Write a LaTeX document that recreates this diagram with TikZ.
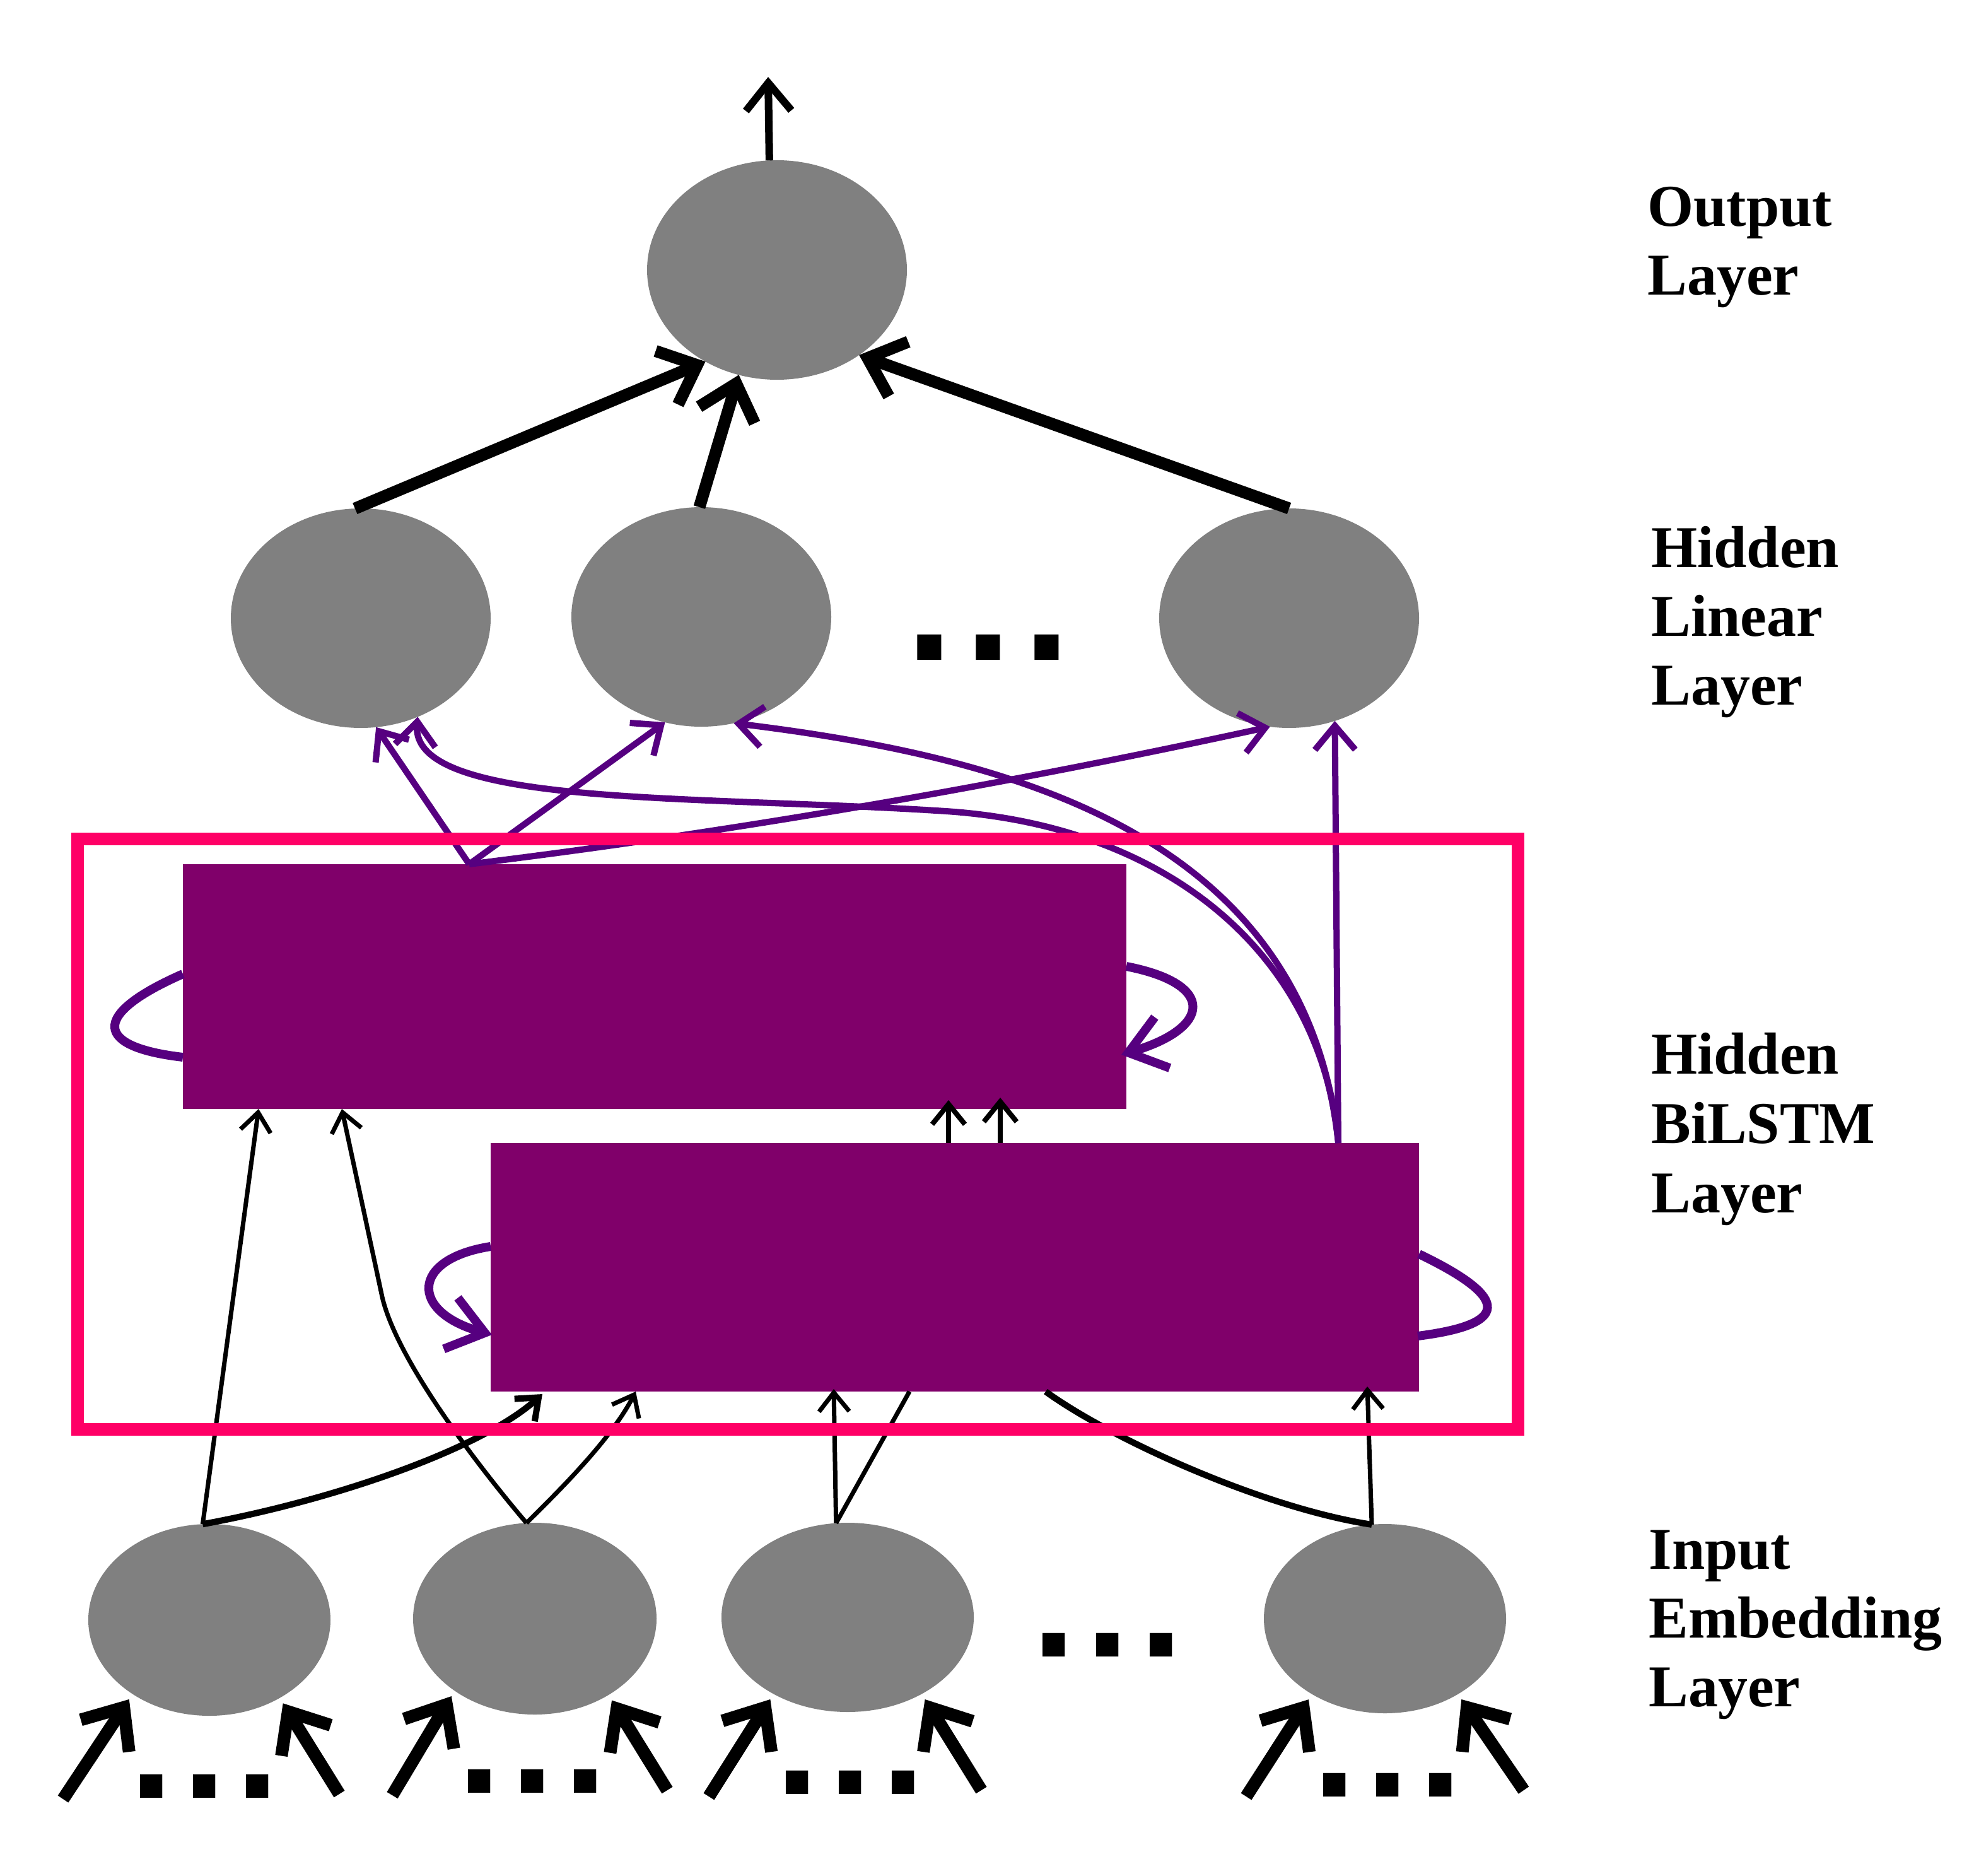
\documentclass[tikz,border=0pt]{standalone}
\usepackage{fontspec}
\setmainfont{Liberation Serif}
\newfontfamily\dotfont{Liberation Sans}
\usetikzlibrary{arrows.meta,shapes.geometric,calc}
\definecolor{nodegray}{RGB}{128,128,128}
\definecolor{boxpurple}{RGB}{128,0,106}
\definecolor{linkviolet}{RGB}{86,0,128}
\definecolor{framepink}{RGB}{255,0,102}
\newcommand{\dotrow}[1]{.\kern#1.\kern#1.}
\begin{document}
\begin{tikzpicture}[x=1pt,y=-1pt,
  ell/.style={ellipse,fill=nodegray,draw=none,inner sep=0pt,outer sep=0pt},
  boxnode/.style={rectangle,fill=boxpurple,draw=none,inner sep=0pt,outer sep=0pt},
  framenode/.style={rectangle,draw=framepink,line width=10pt,fill=none,inner sep=0pt,outer sep=0pt},
  lbl/.style={anchor=base west,inner sep=0pt,font=\fontsize{47}{55}\selectfont\bfseries},
  dotsnode/.style={anchor=base,inner sep=0pt,font=\dotfont\fontsize{125}{125}\selectfont\bfseries},
  thickarr/.style={draw=black,line width=9.5pt,-{Straight Barb[length=26pt,width=46pt,sharp]}},
  outarr/.style={draw=black,line width=6pt,-{Straight Barb[length=22pt,width=36pt,sharp]}},
  botarr/.style={draw=black,line width=10pt,-{Straight Barb[length=27pt,width=46pt,sharp]},shorten >=5pt},
  parr/.style={draw=linkviolet,line width=5pt,-{Straight Barb[length=19pt,width=32pt,sharp]}},
  ploop/.style={draw=linkviolet,line width=7pt},
  ploopar/.style={ploop,-{Straight Barb[length=28pt,width=42pt,sharp]}},
  barr/.style={draw=black,line width=3.5pt,-{Straight Barb[length=15pt,width=24pt,sharp]}},
  bline/.style={draw=black,line width=3.5pt},
  bthick/.style={draw=black,line width=5pt},
  midarr/.style={draw=black,line width=4pt,-{Straight Barb[length=16pt,width=26pt,sharp]}}
]
\useasboundingbox (0,0) rectangle (1565,1487);
\fill[white] (0,0) rectangle (1565,1487);

% ---------- nodes ----------
\node[ell,minimum width=206pt,minimum height=174pt] (o) at (616,214) {};
\node[ell,minimum width=206pt,minimum height=174pt] (h1) at (286,490) {};
\node[ell,minimum width=206pt,minimum height=174pt] (h2) at (556,489) {};
\node[ell,minimum width=206pt,minimum height=174pt] (h3) at (1022,490) {};

\node[ell,minimum width=192pt,minimum height=152pt] (i1) at (166,1284) {};
\node[ell,minimum width=193pt,minimum height=152pt] (i2) at (424,1283) {};
\node[ell,minimum width=200pt,minimum height=150pt] (i3) at (672,1282) {};
\node[ell,minimum width=192pt,minimum height=150pt] (i4) at (1098,1283) {};

\node[boxnode,minimum width=748pt,minimum height=194pt] (U) at (519,782) {};
\node[boxnode,minimum width=736pt,minimum height=197pt] (L) at (757,1004.5) {};

% ---------- named points ----------
\coordinate (otop) at (609,61);
\coordinate (Ptop) at ($(U.north west)+(227,0)$);
\coordinate (Lst) at ($(L.north west)+(672,0)$);
\coordinate (Ub1) at ($(U.south west)+(60,0)$);
\coordinate (Ub2) at ($(U.south west)+(126,0)$);
\coordinate (Ut1) at ($(U.south west)+(607,-7)$);
\coordinate (Ut2) at ($(U.south west)+(648,-9)$);
\coordinate (Lt1) at ($(L.north west)+(363,0)$);
\coordinate (Lt2) at ($(L.north west)+(404,0)$);
\coordinate (Lb1) at ($(L.south west)+(41,2)$);
\coordinate (Lb2) at ($(L.south west)+(115,0)$);
\coordinate (Lb3) at ($(L.south west)+(272,-2)$);
\coordinate (Lb4) at ($(L.south west)+(332,0)$);
\coordinate (Lb5) at ($(L.south west)+(695,-4)$);
\coordinate (Lb6) at ($(L.south west)+(440,0)$);
\coordinate (Ul1) at ($(U.north west)+(0,87)$);
\coordinate (Ul2) at ($(U.north west)+(0,153)$);
\coordinate (Ur1) at ($(U.north east)+(0,81)$);
\coordinate (Ur2) at ($(U.north east)+(-4,151)$);
\coordinate (Ll1) at ($(L.north west)+(0,82)$);
\coordinate (Ll2) at ($(L.north west)+(1,152)$);
\coordinate (Lr1) at ($(L.north east)+(0,88)$);
\coordinate (Lr2) at ($(L.north east)+(-1,153)$);
\coordinate (b1a) at (50,1426);
\coordinate (b1b) at (269,1422);
\coordinate (b2a) at (311,1423);
\coordinate (b2b) at (529,1419);
\coordinate (b3a) at (562,1424);
\coordinate (b3b) at (778,1419);
\coordinate (b4a) at (988,1424);
\coordinate (b4b) at (1208,1419);

% ---------- output / hidden linear ----------
\draw[outarr] (o.94) -- (otop);
\draw[thickarr] (h1.93) -- (o.232);
\draw[thickarr] (h2.91) -- (o.250);
\draw[thickarr] (h3.90) -- (o.314);

% ---------- BiLSTM -> hidden linear ----------
\draw[parr] (Ptop) -- (h1.278);
\draw[parr] (Ptop) -- (h2.251);
\draw[parr] (Ptop) .. controls (584,659) and (796,622) .. (h3.260);
\draw[parr] (Lst) -- (h3.294);
\draw[parr] (Lst) .. controls (1048,760) and (930,655) .. (750,643)
               .. controls (550,630) and (325,640) .. (h1.300);
\draw[parr] (Lst) .. controls (1035,660) and (800,600) .. (h2.287);

% ---------- recurrent loops ----------
\draw[ploop] (Ul1) .. controls (70,805) and (76,830) .. (Ul2);
\draw[ploopar] (Ur1) .. controls (965,780) and (960,815) .. (Ur2);
\draw[ploopar] (Ll1) .. controls (325,998) and (325,1040) .. (Ll2);
\draw[ploop] (Lr1) .. controls (1200,1030) and (1195,1050) .. (Lr2);

% ---------- between the two LSTM boxes ----------
\draw[midarr] (Lt1) -- (Ut1);
\draw[midarr] (Lt2) -- (Ut2);

% ---------- input -> BiLSTM ----------
\draw[barr] (i1.94) -- (Ub1);
\draw[barr,line width=5pt] (i1.94) .. controls (260,1190) and (380,1150) .. (Lb1);
\draw[barr] (i2.95) .. controls (379,1162) and (314.5,1078) .. (303,1028) -- (Ub2);
\draw[barr] (i2.95) .. controls (445,1180) and (485,1140) .. (Lb2);
\draw[barr] (i3.97) -- (Lb3);
\draw[bline] (i3.97) -- (Lb4);
\draw[barr] (i4.98) -- (Lb5);
\draw[bthick] (i4.98) .. controls (1000,1195) and (880,1140) .. (Lb6);

% ---------- bottom input arrows ----------
\draw[botarr] (b1a) -- (i1.224);
\draw[botarr] (b1b) -- (i1.312);
\draw[botarr] (b2a) -- (i2.222);
\draw[botarr] (b2b) -- (i2.314);
\draw[botarr] (b3a) -- (i3.226);
\draw[botarr] (b3b) -- (i3.314);
\draw[botarr] (b4a) -- (i4.226);
\draw[botarr] (b4b) -- (i4.314);

% ---------- frame ----------
\node[framenode,minimum width=1142pt,minimum height=468pt] (F) at (632.5,899) {};

% ---------- dots ----------
\node[dotsnode,font=\dotfont\fontsize{135}{135}\selectfont\bfseries] (dh) at (783.5,523) {\dotrow{9pt}};
\node[dotsnode] (di) at (878,1313) {\dotrow{7.75pt}};
\node[dotsnode] (d1) at (162,1425) {\dotrow{7.25pt}};
\node[dotsnode] (d2) at (422,1421) {\dotrow{7.25pt}};
\node[dotsnode] (d3) at (674,1422) {\dotrow{7.25pt}};
\node[dotsnode] (d4) at (1100,1424) {\dotrow{7.25pt}};

% ---------- labels ----------
\node[lbl] (tO1) at (1306,179.5) {Output};
\node[lbl] (tO2) at (1306,234) {Layer};
\node[lbl] (tH1) at (1309,449.5) {Hidden};
\node[lbl] (tH2) at (1309,504) {Linear};
\node[lbl] (tH3) at (1309,558.5) {Layer};
\node[lbl] (tB1) at (1309,851) {Hidden};
\node[lbl] (tB2) at (1309,906) {BiLSTM};
\node[lbl] (tB3) at (1309,961) {Layer};
\node[lbl] (tI1) at (1307,1243.5) {Input};
\node[lbl] (tI2) at (1307,1298) {Embedding};
\node[lbl] (tI3) at (1307,1352.5) {Layer};
\end{tikzpicture}
\end{document}
